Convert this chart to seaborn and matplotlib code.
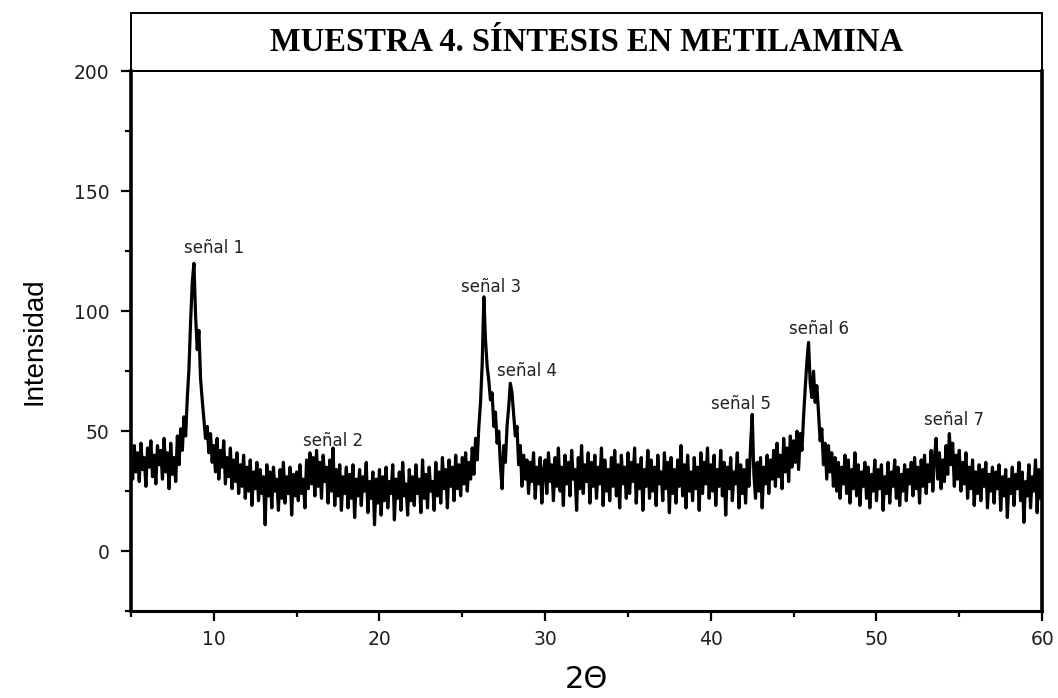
import numpy as np
import pandas as pd
import matplotlib
matplotlib.use("Agg")
import matplotlib.pyplot as plt
from matplotlib.patches import Rectangle
import seaborn as sns

# ---- data (2-theta grid 5.0 .. 60.0, step 0.1; intensities) ----
theta_start, theta_stop, theta_step = 5.0, 60.0, 0.1

int_05_10 = [38, 30, 44, 33, 41, 29, 45, 34, 39, 27,
             43, 35, 46, 31, 40, 28, 44, 36, 42, 30,
             47, 33, 41, 26, 45, 32, 39, 29, 48, 36,
             51, 42, 56, 48, 64, 76, 96, 112, 120, 98,
             84, 92, 72, 63, 55, 47, 52, 41, 49, 37]
int_10_15 = [44, 33, 47, 30, 42, 35, 46, 28, 39, 31,
             43, 26, 38, 29, 41, 24, 36, 27, 40, 22,
             35, 25, 38, 19, 33, 26, 37, 21, 34, 24,
             31, 11, 36, 23, 33, 18, 35, 25, 30, 17,
             34, 22, 37, 20, 31, 24, 35, 15, 32, 23]
int_15_20 = [33, 21, 36, 24, 30, 18, 38, 26, 41, 28,
             39, 23, 42, 27, 37, 22, 40, 29, 35, 20,
             38, 25, 43, 19, 34, 23, 36, 17, 31, 24,
             35, 18, 32, 22, 36, 14, 30, 23, 34, 19,
             31, 25, 37, 16, 29, 22, 33, 11, 30, 20]
int_20_25 = [34, 15, 31, 21, 35, 18, 29, 24, 36, 13,
             30, 22, 33, 17, 37, 23, 28, 15, 34, 21,
             31, 19, 36, 24, 30, 16, 38, 22, 32, 18,
             35, 25, 29, 17, 37, 23, 33, 20, 39, 26,
             34, 18, 38, 27, 35, 21, 40, 26, 36, 23]
int_25_30 = [39, 28, 41, 25, 37, 30, 43, 32, 47, 38,
             52, 62, 78, 106, 88, 77, 71, 63, 66, 52,
             58, 45, 50, 36, 26, 44, 37, 52, 60, 70,
             66, 57, 48, 52, 36, 44, 27, 40, 30, 38,
             24, 37, 29, 41, 22, 35, 28, 39, 20, 34]
int_30_35 = [38, 24, 41, 29, 36, 21, 39, 27, 43, 25,
             35, 19, 40, 28, 37, 23, 42, 30, 34, 17,
             39, 26, 44, 24, 36, 29, 41, 20, 37, 27,
             40, 22, 35, 28, 43, 19, 38, 25, 34, 21,
             39, 27, 42, 23, 36, 18, 40, 28, 35, 22]
int_35_40 = [41, 24, 37, 29, 43, 20, 36, 26, 39, 17,
             34, 27, 42, 22, 38, 25, 35, 19, 40, 28,
             33, 21, 41, 26, 37, 16, 39, 24, 34, 20,
             38, 27, 44, 23, 36, 18, 40, 25, 33, 21,
             39, 26, 35, 17, 41, 24, 37, 28, 43, 22]
int_40_45 = [36, 25, 40, 19, 34, 27, 42, 23, 37, 15,
             35, 26, 39, 21, 33, 28, 41, 18, 36, 24,
             34, 20, 38, 27, 44, 57, 32, 22, 37, 25,
             39, 18, 35, 28, 40, 24, 38, 30, 42, 27,
             45, 31, 40, 26, 47, 33, 43, 29, 48, 35]
int_45_50 = [46, 37, 50, 34, 49, 42, 56, 68, 79, 87,
             70, 64, 75, 62, 69, 58, 46, 51, 36, 45,
             30, 44, 33, 41, 27, 39, 25, 37, 22, 35,
             28, 40, 24, 38, 20, 34, 26, 41, 23, 36,
             19, 33, 27, 37, 22, 35, 18, 32, 25, 38]
int_50_55 = [21, 34, 26, 36, 17, 31, 24, 37, 20, 33,
             27, 38, 22, 35, 19, 32, 25, 36, 21, 34,
             28, 37, 23, 39, 26, 35, 20, 38, 27, 40,
             24, 36, 29, 42, 25, 39, 47, 30, 41, 26,
             38, 29, 44, 32, 49, 36, 45, 27, 40, 30]
int_55_60 = [42, 25, 37, 28, 41, 22, 35, 26, 38, 19,
             33, 24, 36, 21, 34, 27, 37, 18, 32, 25,
             35, 20, 33, 26, 36, 17, 31, 23, 34, 14,
             30, 24, 35, 19, 32, 26, 37, 21, 33, 12,
             29, 23, 36, 18, 31, 25, 38, 16, 34, 22,
             30]

peak_labels = ["señal 1", "señal 2", "señal 3", "señal 4", "señal 5", "señal 6", "señal 7"]
label_x = [10.0, 17.2, 26.75, 28.9, 41.85, 46.55, 54.7]
label_y = [126.5, 46.0, 110.0, 75.0, 61.5, 92.5, 54.5]

title_text = "MUESTRA 4. SÍNTESIS EN METILAMINA"
x_ticks = [10, 20, 30, 40, 50, 60]
y_ticks = [0, 50, 100, 150, 200]

intensity = (int_05_10 + int_10_15 + int_15_20 + int_20_25 + int_25_30 + int_30_35
             + int_35_40 + int_40_45 + int_45_50 + int_50_55 + int_55_60)
theta = np.round(np.linspace(theta_start, theta_stop, len(intensity)), 2)
df = pd.DataFrame({"theta": theta, "intensity": intensity})

# ---- style ----
sns.set_theme(style="ticks")
plt.rcParams["font.family"] = ["Liberation Sans", "DejaVu Sans"]

fig = plt.figure(figsize=(10.58, 6.98), dpi=100)
ax = fig.add_axes([0.1238, 0.1246, 0.8612, 0.7730])

sns.lineplot(data=df, x="theta", y="intensity", ax=ax, color="black",
             linewidth=2.3, estimator=None, sort=False)

ax.set_xlim(5, 60)
ax.set_ylim(-25, 200)
ax.set_xticks(x_ticks)
ax.set_yticks(y_ticks)
ax.set_xticks([5, 15, 25, 35, 45, 55], minor=True)
ax.set_yticks([-25, 25, 75, 125, 175], minor=True)
ax.tick_params(axis="both", which="major", length=7.5, width=1.6, color="black",
               labelsize=13.5, labelcolor="#1f1f1f", direction="out")
ax.tick_params(axis="both", which="minor", length=4, width=1.6, color="black",
               direction="out")
ax.tick_params(axis="x", which="major", pad=6)
ax.tick_params(axis="y", which="major", pad=8)
for lab in ax.get_xticklabels() + ax.get_yticklabels():
    lab.set_family(["DejaVu Sans"])

for side, lw in [("left", 2.6), ("bottom", 2.2), ("right", 2.6), ("top", 1.2)]:
    ax.spines[side].set_visible(True)
    ax.spines[side].set_linewidth(lw)
    ax.spines[side].set_color("black")

ax.set_xlabel("2Θ", fontsize=22, color="black", labelpad=12, family=["DejaVu Sans"])
ax.set_ylabel("Intensidad", fontsize=20, color="black", labelpad=19)

for txt, xx, yy in zip(peak_labels, label_x, label_y):
    ax.text(xx, yy, txt, ha="center", va="center", fontsize=12, color="#222222",
            family=["DejaVu Sans"])

# title box above the axes
box_h = 0.109
ax.add_patch(Rectangle((0, 1.0), 1.0, box_h, transform=ax.transAxes, fill=False,
                       edgecolor="black", linewidth=1.4, clip_on=False))
ax.text(0.5, 1.0 + box_h / 2, title_text, transform=ax.transAxes, ha="center",
        va="center", fontsize=23.5, fontweight="bold", color="black",
        family=["Liberation Serif", "DejaVu Serif"])

fig.savefig("out.png", dpi=100)
